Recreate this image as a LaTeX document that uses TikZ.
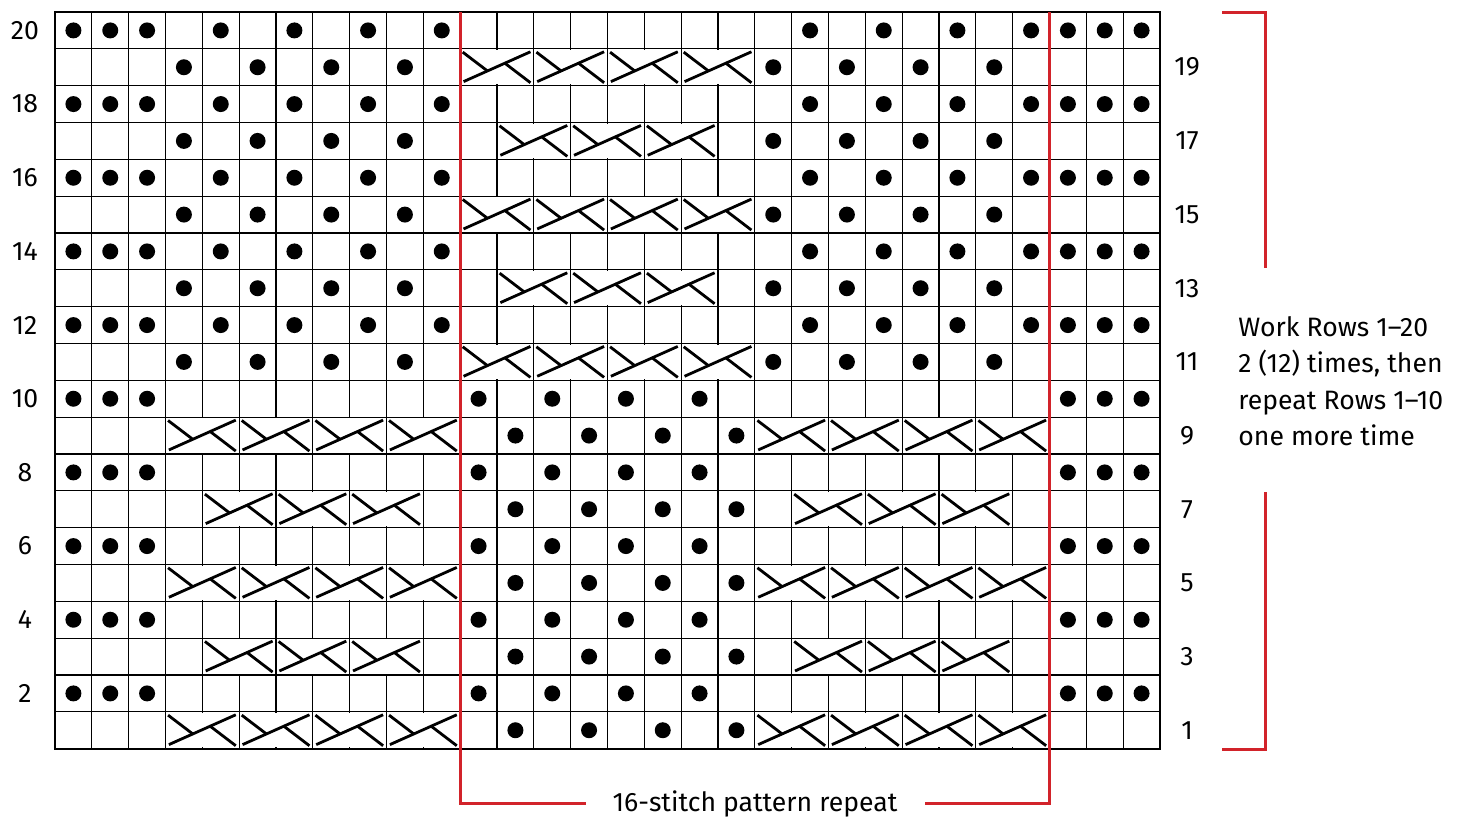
\documentclass[tikz,border=0pt]{standalone}
\usepackage{fontspec}
\setmainfont{Fira Sans}
\definecolor{repred}{HTML}{D2232A}
\tikzset{
  gridline/.style={line width=0.6pt, black},
  border/.style={line width=1pt, black},
  cableline/.style={line width=1.4pt, black, line cap=butt},
  redline/.style={line width=1.5pt, repred},
  lab/.style={font=\fontsize{13.3}{15}\selectfont, inner sep=0pt},
}
\def\gx{55}\def\gy{12}\def\s{36.833}
\newcommand\dotrow[2]{%
  \foreach \c in {#2}{%
    \fill (\gx+\c*\s+\s/2, \gy+#1*\s+\s/2) circle[radius=4pt];
  }}
\newcommand\cablerow[2]{%
  \foreach \c in {#2}{%
    \pgfmathsetmacro\X{\gx+\c*\s}%
    \pgfmathsetmacro\Y{\gy+#1*\s}%
    \fill[white] (\X+1.2,\Y+1.2) rectangle (\X+2*\s-1.2,\Y+\s-1.2);
    \draw[gridline] (\X,\Y) rectangle (\X+2*\s,\Y+\s);
    \draw[cableline] (\X+0.046*2*\s,\Y+0.89*\s) -- (\X+0.954*2*\s,\Y+0.08*\s);
    \draw[cableline] (\X+0.035*2*\s,\Y+0.09*\s) -- (\X+0.37*2*\s,\Y+0.60*\s);
    \draw[cableline] (\X+0.60*2*\s,\Y+0.38*\s) -- (\X+0.954*2*\s,\Y+0.92*\s);
  }}
\begin{document}
\begin{tikzpicture}[x=0.5pt,y=-0.5pt]
\useasboundingbox (0,0) rectangle (1463,819);
% grid
\foreach \i in {1,...,19}{\draw[gridline] (\gx,\gy+\i*\s) -- (\gx+30*\s,\gy+\i*\s);}
\foreach \c in {1,...,29}{\draw[gridline] (\gx+\c*\s,\gy) -- (\gx+\c*\s,\gy+20*\s);}
% rows 20,18,16,14,12
\foreach \i in {0,2,4,6,8}{\dotrow{\i}{0,1,2,4,6,8,10,20,22,24,26,27,28,29}}
% rows 19,15,11
\foreach \i in {1,5,9}{\dotrow{\i}{3,5,7,9,19,21,23,25}\cablerow{\i}{11,13,15,17}}
% rows 17,13
\foreach \i in {3,7}{\dotrow{\i}{3,5,7,9,19,21,23,25}\cablerow{\i}{12,14,16}}
% rows 10,8,6,4,2
\foreach \i in {10,12,14,16,18}{\dotrow{\i}{0,1,2,11,13,15,17,27,28,29}}
% rows 9,5,1
\foreach \i in {11,15,19}{\dotrow{\i}{12,14,16,18}\cablerow{\i}{3,5,7,9,19,21,23,25}}
% rows 7,3
\foreach \i in {13,17}{\dotrow{\i}{12,14,16,18}\cablerow{\i}{4,6,8,20,22,24}}
% border
\draw[border] (\gx,\gy) rectangle (\gx+30*\s,\gy+20*\s);
% row labels
\foreach \r in {20,18,...,2}{\node[lab] (lab\r) at (25,\gy+20*\s-\r*\s+\s/2) {\r};}
\foreach \r in {19,17,...,1}{\node[lab] (lab\r) at (1187,\gy+20*\s-\r*\s+\s/2) {\r};}
% repeat lines
\draw[redline] (460,12) -- (460,803) -- (586,803);
\draw[redline] (925,803) -- (1049.5,803) -- (1049.5,12);
\node[lab] (rep) at (755,804) {16-stitch pattern repeat};
% right bracket
\draw[redline] (1222,12) -- (1265,12) -- (1265,268);
\draw[redline] (1265,492) -- (1265,749) -- (1222,749);
\node[lab, anchor=west, align=left, font=\fontsize{13.3}{18.25}\selectfont] (note) at (1238,381)
  {Work Rows 1–20\\2 (12) times, then\\repeat Rows 1–10\\one more time};
\end{tikzpicture}
\end{document}
